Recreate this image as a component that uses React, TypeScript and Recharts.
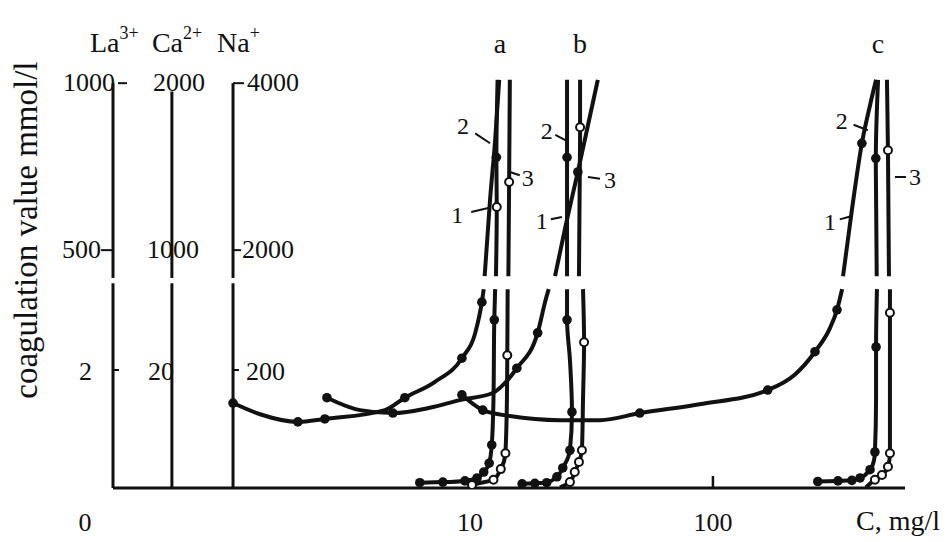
import React from 'react';
import { ComposedChart, Line, XAxis, YAxis, ReferenceLine, ReferenceDot, Label } from 'recharts';

// [C mg/l, coagulation value (La3+ scale, mmol/l), marker] ; null = axis break
type Pt = [number, number, string] | null;

const curveA1: Pt[] = [
  [1.06, 1.44, 'f'], [1.37, 1.25, ''], [1.96, 1.12, 'f'], [2.53, 1.17, 'f'], [4.47, 1.32, ''],
  [5.4, 1.53, 'f'], [7.18, 1.8, ''], [9.27, 2.2, 'f'], [10.6, 2.68, ''], [11.2, 3.15, 'f'], [11.4, 3.37, ''],
  null,
  [11.5, 422, ''], [12.1, 650, ''], [12.7, 829, ''], [13.2, 1010, ''],
];
const curveA2: Pt[] = [
  [6.22, 0.09, 'f'], [7.74, 0.1, 'f'], [9.54, 0.12, 'f'], [10.7, 0.17, 'f'], [11.4, 0.27, 'f'],
  [12.0, 0.42, 'f'], [12.3, 0.73, 'f'], [12.5, 1.49, ''], [12.6, 2.85, 'f'], [12.7, 3.37, ''],
  null,
  [12.8, 422, ''], [12.9, 629, 'o'], [12.85, 778, 'f'], [13.0, 1010, ''],
];
const curveA3: Pt[] = [
  [9.9, 0.01, ''], [10.2, 0.05, 'o'], [12.5, 0.14, 'o'], [13.4, 0.32, 'o'], [14.0, 0.59, 'o'],
  [14.2, 1.49, ''], [14.25, 2.25, 'o'], [14.3, 3.37, ''],
  null,
  [14.4, 422, ''], [14.5, 704, 'o'], [14.6, 1010, ''],
];
const curveB1: Pt[] = [
  [2.58, 1.53, 'f'], [3.53, 1.32, ''], [4.82, 1.27, 'f'], [6.84, 1.36, ''], [9.1, 1.49, ''],
  [12.4, 1.61, ''], [15.6, 2.03, 'f'], [19.0, 2.63, 'f'], [20.5, 3.19, ''], [21.1, 3.37, ''],
  null,
  [22.4, 422, ''], [24.8, 575, ''], [27.8, 734, 'f'], [30.6, 874, ''], [33.6, 1010, ''],
];
const curveB2: Pt[] = [
  [16.4, 0.07, 'f'], [18.5, 0.08, 'f'], [20.7, 0.09, 'f'], [22.8, 0.19, 'f'], [24.1, 0.34, 'f'],
  [25.3, 0.51, ''], [25.8, 0.64, 'f'], [26.3, 1.29, 'f'], [25.8, 2.17, ''], [25.1, 2.85, 'f'], [25.1, 3.37, ''],
  null,
  [25.1, 422, ''], [25.1, 778, 'f'], [25.1, 1010, ''],
];
const curveB3: Pt[] = [
  [23.5, 0.01, ''], [25.8, 0.1, 'o'], [27.0, 0.27, 'o'], [28.1, 0.44, 'o'], [28.9, 0.64, 'o'],
  [29.2, 1.49, ''], [29.5, 2.47, 'o'], [29.2, 3.37, ''],
  null,
  [28.1, 422, ''], [28.4, 868, 'o'], [28.4, 1010, ''],
];
const curveC1: Pt[] = [
  [9.27, 1.58, 'f'], [11.3, 1.32, 'f'], [14.6, 1.22, ''], [23.5, 1.15, ''], [34.3, 1.15, ''],
  [50, 1.27, 'f'], [88, 1.42, ''], [168, 1.66, 'f'], [217, 1.92, ''], [263, 2.31, 'f'],
  [303, 2.71, ''], [324, 3.02, 'f'], [340, 3.37, ''],
  null,
  [343, 422, ''], [373, 620, ''], [410, 820, 'f'], [443, 934, ''], [469, 1010, ''],
];
const curveC2: Pt[] = [
  [270, 0.11, 'f'], [327, 0.12, 'f'], [373, 0.13, 'f'], [403, 0.17, 'f'], [443, 0.31, 'f'],
  [460, 0.47, ''], [464, 0.61, 'f'], [469, 1.49, ''], [469, 2.39, 'f'], [473, 3.37, ''],
  null,
  [472, 422, ''], [468, 775, 'f'], [478, 1010, ''],
];
const curveC3: Pt[] = [
  [426, 0.01, ''], [464, 0.14, 'o'], [496, 0.22, 'o'], [525, 0.36, 'o'], [535, 0.59, 'o'],
  [535, 1.49, ''], [535, 2.97, 'o'], [535, 3.37, ''],
  null,
  [530, 422, ''], [525, 799, 'o'], [520, 1010, ''],
];

const xTicks = [0.34, 10, 100];
const xTickLabels = ['0', '10', '100'];

const ionNames = ['La', 'Ca', 'Na'];
const ionCharges = ['3+', '2+', '+'];
const ionTickValues = [2, 500, 1000];
const ionTickLabels = [
  ['2', '500', '1000'],
  ['20', '1000', '2000'],
  ['200', '2000', '4000'],
];

const groupLabels = ['a', 'b', 'c'];
const groupPeakC = [13.3, 28.4, 478];

// curve numbers with their pointer tips on the curves
const curveTags = [
  { text: '2', c: 12.1, v: 820 }, { text: '1', c: 11.9, v: 626 }, { text: '3', c: 14.6, v: 734 },
  { text: '2', c: 24.8, v: 829 }, { text: '1', c: 23.9, v: 599 }, { text: '3', c: 30.6, v: 719 },
  { text: '2', c: 434, v: 859 }, { text: '1', c: 373, v: 602 }, { text: '3', c: 561, v: 719 },
];
const tagOffsets = [
  [-27, -18], [-31, 7], [18, 6],
  [-19, -10], [-20, 4], [22, 3],
  [-26, -10], [-22, 6], [20, 0],
];

// broken value axis: 0..LOW_MAX below the break, HIGH_MIN..1000 above it
const LOW_MAX = 3.37;
const HIGH_MIN = 422;
const GAP = 0.22;
const HIGH_K = 0.00566;
const toD = (v: number) => (v <= LOW_MAX ? v : LOW_MAX + GAP + (v - HIGH_MIN) * HIGH_K);

const X_MIN = 0.34;
const X_MAX = 617;
const ionAxisC = [X_MIN, 0.594, 1.06];
const INK = '#111';
const FONT = '"Liberation Serif", "DejaVu Serif", serif';

const toRows = (pts: Pt[]) => {
  let lastC = pts[0] ? pts[0][0] : 1;
  return pts.map((p) => {
    if (!p) return { c: lastC, d: null, m: '' };
    lastC = p[0];
    return { c: p[0], d: toD(p[1]), m: p[2] };
  });
};

const series = [
  { id: 'a1', pts: curveA1, kind: 1 },
  { id: 'a2', pts: curveA2, kind: 2 },
  { id: 'a3', pts: curveA3, kind: 3 },
  { id: 'b1', pts: curveB1, kind: 1 },
  { id: 'b2', pts: curveB2, kind: 2 },
  { id: 'b3', pts: curveB3, kind: 3 },
  { id: 'c1', pts: curveC1, kind: 1 },
  { id: 'c2', pts: curveC2, kind: 2 },
  { id: 'c3', pts: curveC3, kind: 3 },
];

const renderDot = (props: any) => {
  const { cx, cy, payload, index } = props;
  const key = `dot-${index}`;
  if (cx == null || cy == null || !payload || !payload.m) return <g key={key} />;
  if (payload.m === 'o') {
    return <circle key={key} cx={cx} cy={cy} r={4} fill="#fff" stroke={INK} strokeWidth={2} />;
  }
  return <circle key={key} cx={cx} cy={cy} r={4.8} fill={INK} />;
};

const XTick = (props: any) => {
  const { x, y, payload } = props;
  const i = xTicks.indexOf(payload.value);
  const label = i >= 0 ? xTickLabels[i] : '';
  const shift = i === 0 ? -28 : 0;
  return (
    <g>
      {payload.value === 100 && <line x1={x} y1={y - 12} x2={x} y2={y} stroke={INK} strokeWidth={2.5} />}
      <text x={x + shift} y={y + 43} textAnchor="middle" fontSize={26} fill={INK}>{label}</text>
    </g>
  );
};

// tick text / tick mark placement for the three ion scales
const ionTickLayout = [
  [
    { anchor: 'end', tx: -21, ty: 10, mark: [0, 6] },
    { anchor: 'end', tx: -12, ty: 8, mark: [-12, 0] },
    { anchor: 'end', tx: 2, ty: 8, mark: [5, 14] },
  ],
  [
    { anchor: 'middle', tx: -11, ty: 10, mark: null },
    { anchor: 'middle', tx: 1, ty: 8, mark: null },
    { anchor: 'middle', tx: 7, ty: 8, mark: null },
  ],
  [
    { anchor: 'start', tx: 13, ty: 10, mark: [0, 6] },
    { anchor: 'start', tx: 9, ty: 8, mark: [0, 8] },
    { anchor: 'start', tx: 14, ty: 8, mark: [0, 11] },
  ],
];
const ionHeaderShift = [-23, -20, -16];

const ionTick = (axis: number, t: number) => (p: any) => {
  const { cx, cy } = p;
  const lay = ionTickLayout[axis][t];
  return (
    <g>
      {lay.mark && (
        <line x1={cx + lay.mark[0]} y1={cy} x2={cx + lay.mark[1]} y2={cy} stroke={INK} strokeWidth={2} />
      )}
      <text x={cx + lay.tx} y={cy + lay.ty} textAnchor={lay.anchor as any} fontSize={26} fill={INK}>
        {ionTickLabels[axis][t]}
      </text>
      {t === 2 && (
        <text x={cx + ionHeaderShift[axis]} y={cy - 31} fontSize={28} fill={INK}>
          {ionNames[axis]}
          <tspan fontSize={18} dy={-13}>{ionCharges[axis]}</tspan>
        </text>
      )}
    </g>
  );
};

// value-axis title, drawn left of the La3+ scale
const yTitle = (p: any) => {
  const x = p.cx - 76;
  const y = p.cy;
  return (
    <text x={x} y={y} transform={`rotate(-90, ${x}, ${y})`} textAnchor="middle" fontSize={33} fill={INK}>
      coagulation value mmol/l
    </text>
  );
};

const groupLabel = (i: number) => (p: any) => (
  <text x={p.cx} y={p.cy - 27} textAnchor="middle" fontSize={28} fill={INK}>{groupLabels[i]}</text>
);

const curveTag = (i: number) => (p: any) => {
  const [dx, dy] = tagOffsets[i];
  return (
    <g>
      <line x1={p.cx} y1={p.cy} x2={p.cx + dx * 0.55} y2={p.cy + dy * 0.55} stroke={INK} strokeWidth={2} />
      <text x={p.cx + dx} y={p.cy + dy} dy="0.35em" textAnchor="middle" fontSize={24} fill={INK}>
        {curveTags[i].text}
      </text>
    </g>
  );
};

export default function App() {
  const axisLow = LOW_MAX + 0.1;
  const axisHigh = LOW_MAX + GAP - 0.03;
  return (
    <div style={{ position: 'absolute', left: 0, top: 0, background: '#fff', fontFamily: FONT }}>
      <ComposedChart width={950} height={542} margin={{ top: 75, right: 45, bottom: 24, left: 113 }}>
        <XAxis
          type="number"
          dataKey="c"
          scale="log"
          domain={[X_MIN, X_MAX]}
          ticks={xTicks}
          interval={0}
          allowDataOverflow
          height={30}
          tickSize={0}
          tickMargin={0}
          tickLine={false}
          axisLine={{ stroke: INK, strokeWidth: 3 }}
          tick={<XTick />}
        >
          <Label
            content={(p: any) => (
              <text x={p.viewBox.x + p.viewBox.width + 35} y={p.viewBox.y + 42} textAnchor="end" fontSize={28} fill={INK}>
                C, mg/l
              </text>
            )}
          />
        </XAxis>
        <YAxis type="number" domain={[0, 7]} width={0} tick={false} tickLine={false} axisLine={false} allowDataOverflow />

        <ReferenceDot x={X_MIN} y={toD(560)} r={0} shape={yTitle} />

        {ionAxisC.map((c, i) => (
          <ReferenceLine
            key={`low-${i}`}
            segment={[{ x: c, y: 0 }, { x: c, y: axisLow }]}
            stroke={INK}
            strokeWidth={3}
          />
        ))}
        {ionAxisC.map((c, i) => (
          <ReferenceLine
            key={`high-${i}`}
            segment={[{ x: c, y: axisHigh }, { x: c, y: toD(i === 1 ? 975 : 1000) }]}
            stroke={INK}
            strokeWidth={3}
          />
        ))}
        {ionAxisC.map((c, i) =>
          ionTickValues.map((v, t) => (
            <ReferenceDot key={`tick-${i}-${t}`} x={c} y={toD(v)} r={0} shape={ionTick(i, t)} />
          ))
        )}

        {series.map((s) => (
          <Line
            key={s.id}
            data={toRows(s.pts)}
            dataKey="d"
            type={s.kind === 1 ? 'monotone' : 'monotoneY'}
            stroke={INK}
            strokeWidth={4}
            dot={renderDot}
            activeDot={false}
            connectNulls={false}
            isAnimationActive={false}
          />
        ))}

        {groupPeakC.map((c, i) => (
          <ReferenceDot key={`grp-${i}`} x={c} y={toD(1010)} r={0} shape={groupLabel(i)} />
        ))}
        {curveTags.map((t, i) => (
          <ReferenceDot key={`tag-${i}`} x={t.c} y={toD(t.v)} r={0} shape={curveTag(i)} />
        ))}
      </ComposedChart>
    </div>
  );
}
